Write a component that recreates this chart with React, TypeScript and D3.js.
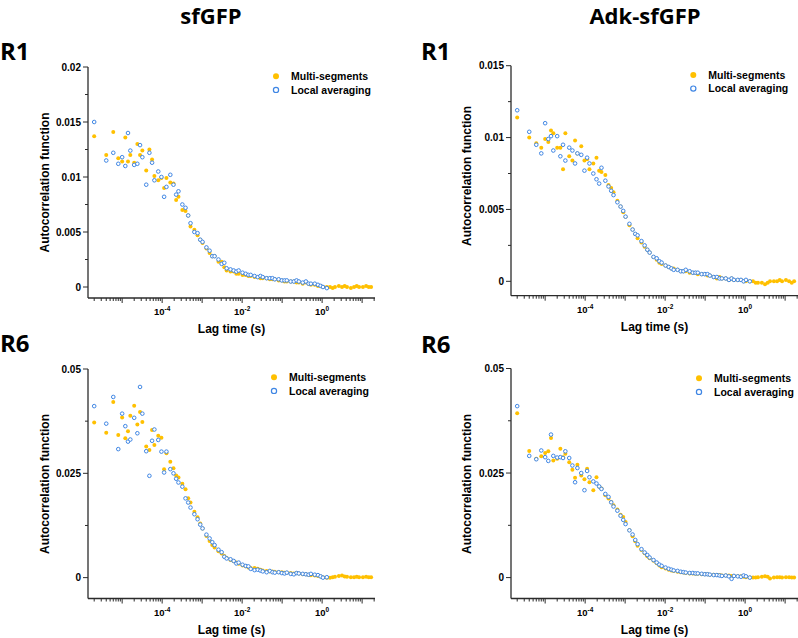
import React, { useRef, useEffect } from 'react';
import * as d3 from 'd3';

// lag times (s), shared by every curve
const LAG = [
  2e-6, 4e-6, 6e-6, 8e-6, 1e-5, 1.2e-5, 1.4e-5, 1.6e-5,
  2e-5, 2.4e-5, 2.8e-5, 3.2e-5, 4e-5, 4.8e-5, 5.6e-5, 6.4e-5,
  8e-5, 9.6e-5, 1.12e-4, 1.28e-4, 1.6e-4, 1.92e-4, 2.24e-4, 2.56e-4,
  3.2e-4, 3.84e-4, 4.48e-4, 5.12e-4, 6.4e-4, 7.68e-4, 8.96e-4, 1.024e-3,
  1.28e-3, 1.536e-3, 1.792e-3, 2.048e-3, 2.56e-3, 3.072e-3, 3.584e-3, 4.096e-3,
  5.12e-3, 6.144e-3, 7.168e-3, 8.192e-3, 1.024e-2, 1.229e-2, 1.434e-2, 1.638e-2,
  2.048e-2, 2.458e-2, 2.867e-2, 3.277e-2, 4.096e-2, 4.915e-2, 5.734e-2, 6.554e-2,
  8.192e-2, 9.83e-2, 0.1147, 0.1311, 0.1638, 0.1966, 0.2294, 0.2621,
  0.3277, 0.3932, 0.4588, 0.5243, 0.6554, 0.7864, 0.9175, 1.049,
  1.311, 1.573, 1.835, 2.097, 2.621, 3.146, 3.67, 4.194,
  5.243, 6.291, 7.34, 8.389, 10.49, 12.58, 14.68, 16.78
];

// sfGFP, R1
const SF_R1_MULTI = [
  .0137, .0120, .0141, .0117, .0114, .0136, .0114, .0120, .0113, .0130, .0120, .0124, .0106, .0125, .0116, .0101, .0097, .0099, .0090, .0099,
  .0095, .0094, .0079, .0082, .0070, .0069, .0065, .0055, .0052, .0047, .0043, .0040, .0035, .0031, .0028, .0028, .0023, .0023, .0018, .0015, .0014, .0014, .0012, .0012,
  .0011, .0011, .0010, .0010, .0009, .0009, .0008, .0008, .0008, .0007, .0007, .0007, .0006, .0006, .0005, .0005, .0005, .0005, .0004, .0004, .0003, .0004, .0003, .0002, .0002, .0001, .0001, .0000, .0000,
  .0000, -.0001, .0000, .0001, .0000, .0001, .0000, -.0001, .0000, .0001, .0000, .0000, .0001, .0000, .0000
];
const SF_R1_LOCAL = [
  .0150, .0115, .0122, .0112, .0118, .0110, .0140, .0124, .0111, .0112, .0129, .0118, .0093, .0122, .0113, .0097, .0105, .0100, .0082, .0091,
  .0102, .0093, .0084, .0087, .0075, .0072, .0065, .0058, .0050, .0049, .0043, .0041, .0036, .0033, .0028, .0028, .0025, .0021, .0022, .0017, .0016, .0015, .0014, .0015,
  .0013, .0012, .0011, .0011, .0010, .0009, .0010, .0009, .0008, .0008, .0008, .0007, .0007, .0006, .0006, .0006, .0005, .0005, .0006, .0005, .0004, .0005, .0003, .0003, .0003, .0002, .0001, .0000, -.0001
];

// Adk-sfGFP, R1
const ADK_R1_MULTI = [
  .0114, .0100, .0096, .0093, .0099, .0097, .0105, .0103, .0093, .0093, .0078, .0103, .0087, .0084, .0098, .0089, .0094, .0084, .0085, .0078,
  .0082, .0086, .0077, .0076, .0074, .0067, .0065, .0062, .0056, .0052, .0048, .0045, .0039, .0036, .0033, .0030, .0027, .0024, .0022, .0020, .0017, .0015, .0013, .0012,
  .0011, .0010, .0009, .0009, .0008, .0007, .0007, .0007, .0006, .0006, .0006, .0005, .0005, .0005, .0004, .0004, .0003, .0002, .0003, .0002, .0002, .0001, .0002, .0001, .0001, .0001, .0000, .0000, .0000,
  .0000, -.0001, -.0001, -.0001, -.0002, -.0001, .0000, .0000, .0000, .0001, .0000, .0001, .0000, -.0001, .0000
];
const ADK_R1_LOCAL = [
  .0119, .0104, .0095, .0089, .0110, .0099, .0101, .0091, .0101, .0087, .0095, .0084, .0093, .0091, .0082, .0089, .0088, .0077, .0086, .0082,
  .0075, .0071, .0068, .0079, .0070, .0066, .0063, .0060, .0055, .0052, .0049, .0045, .0040, .0036, .0033, .0032, .0028, .0025, .0022, .0020, .0017, .0016, .0014, .0013,
  .0011, .0010, .0009, .0008, .0008, .0007, .0007, .0008, .0007, .0006, .0006, .0006, .0005, .0005, .0005, .0004, .0003, .0003, .0002, .0002, .0002, .0001, .0002, .0001, .0001, .0001, .0000, .0001, .0000
];

// sfGFP, R6
const SF_R6_MULTI = [
  .0372, .0347, .0421, .0342, .0384, .0334, .0351, .0388, .0412, .0367, .0397, .0373, .0314, .0306, .0354, .0318, .0340, .0335, .0260, .0298,
  .0278, .0262, .0245, .0240, .0225, .0212, .0190, .0180, .0158, .0145, .0130, .0118, .0100, .0088, .0078, .0072, .0063, .0058, .0052, .0047, .0042, .0039, .0036, .0033,
  .0029, .0027, .0024, .0023, .0023, .0021, .0019, .0017, .0016, .0015, .0015, .0014, .0013, .0013, .0012, .0012, .0011, .0010, .0011, .0010, .0008, .0008, .0007, .0006, .0005, .0004, .0003, .0001, .0000,
  .0000, .0001, .0002, .0004, .0005, .0003, .0002, .0001, .0001, .0002, .0001, .0001, .0002, .0001, .0001
];
const SF_R6_LOCAL = [
  .0411, .0369, .0433, .0308, .0393, .0363, .0326, .0331, .0383, .0346, .0457, .0393, .0303, .0244, .0328, .0355, .0330, .0302, .0252, .0302,
  .0260, .0250, .0237, .0228, .0218, .0190, .0180, .0168, .0152, .0140, .0127, .0118, .0103, .0094, .0085, .0078, .0067, .0061, .0050, .0046, .0044, .0040, .0034, .0036,
  .0031, .0028, .0027, .0021, .0018, .0019, .0017, .0015, .0013, .0016, .0013, .0012, .0013, .0011, .0010, .0012, .0009, .0008, .0011, .0010, .0009, .0008, .0007, .0009, .0007, .0006, .0003, .0000, .0001
];

// Adk-sfGFP, R6
const ADK_R6_MULTI = [
  .0393, .0303, .0284, .0290, .0298, .0302, .0334, .0280, .0284, .0308, .0288, .0296, .0276, .0258, .0239, .0270, .0244, .0235, .0260, .0228,
  .0209, .0240, .0217, .0213, .0197, .0189, .0181, .0173, .0163, .0150, .0145, .0133, .0113, .0099, .0087, .0076, .0066, .0058, .0051, .0046, .0040, .0034, .0029, .0025,
  .0022, .0019, .0017, .0016, .0014, .0013, .0012, .0011, .0010, .0010, .0009, .0009, .0008, .0008, .0008, .0007, .0007, .0006, .0006, .0005, .0005, .0005, .0004, .0004, .0003, .0003, .0002, .0001, .0000,
  .0000, .0000, .0001, .0002, .0003, .0002, -.0002, .0000, .0001, .0001, .0000, .0001, .0001, .0000, .0000
];
const ADK_R6_LOCAL = [
  .0410, .0291, .0283, .0304, .0288, .0279, .0342, .0291, .0287, .0288, .0286, .0302, .0286, .0268, .0228, .0262, .0250, .0209, .0255, .0240,
  .0230, .0225, .0218, .0212, .0200, .0193, .0180, .0170, .0160, .0148, .0138, .0128, .0113, .0103, .0090, .0080, .0068, .0060, .0054, .0048, .0042, .0036, .0031, .0028,
  .0024, .0021, .0019, .0017, .0016, .0014, .0013, .0012, .0011, .0011, .0010, .0010, .0009, .0008, .0008, .0007, .0006, .0006, .0005, .0004, .0005, .0003, -.0003, .0004, .0003, .0002, .0005, .0003, .0000
];

const COLUMN_TITLES = ['sfGFP', 'Adk-sfGFP'];
const SERIES_NAMES = ['Multi-segments', 'Local averaging'];
const X_LABEL_POWERS = [1e-4, 1e-2, 1];

const YELLOW = '#FFC000';
const BLUE = '#3F86E4';
const AXIS = '#2b2b2b';
const LABEL_FONT = '"Liberation Sans", Arial, sans-serif';
const TITLE_FONT = '"Open Sans", "Liberation Sans", sans-serif';

const X_DOMAIN = [1.4e-6, 21];
const PLOT_W = 287;

const PANELS = [
  { region: 'R1', multi: SF_R1_MULTI, local: SF_R1_LOCAL, left: 88, top: 67, bottom: 298,
    yDomain: [-0.001, 0.02], yTicks: [0, 0.005, 0.01, 0.015, 0.02],
    regionX: 0, regionY: 60, labelX: 49, labelY: 182.5, legendX: 276, legendY: 76.3 },
  { region: 'R1', multi: ADK_R1_MULTI, local: ADK_R1_LOCAL, left: 511, top: 65.7, bottom: 295.7,
    yDomain: [-0.001, 0.015], yTicks: [0, 0.005, 0.01, 0.015],
    regionX: 421, regionY: 60, labelX: 471, labelY: 176, legendX: 693.3, legendY: 75 },
  { region: 'R6', multi: SF_R6_MULTI, local: SF_R6_LOCAL, left: 88, top: 369, bottom: 598.5,
    yDomain: [-0.005, 0.05], yTicks: [0, 0.025, 0.05],
    regionX: 0, regionY: 352, labelX: 49, labelY: 484, legendX: 274, legendY: 377.3 },
  { region: 'R6', multi: ADK_R6_MULTI, local: ADK_R6_LOCAL, left: 511, top: 368.5, bottom: 598.5,
    yDomain: [-0.005, 0.05], yTicks: [0, 0.025, 0.05],
    regionX: 421, regionY: 353, labelX: 471, labelY: 484, legendX: 699, legendY: 378.3 }
];

function drawPanel(svg, p) {
  const x = d3.scaleLog().domain(X_DOMAIN).range([p.left, p.left + PLOT_W]);
  const y = d3.scaleLinear().domain(p.yDomain).range([p.bottom, p.top]);
  const g = svg.append('g');

  // axis lines
  g.append('line')
    .attr('x1', p.left).attr('x2', p.left + PLOT_W)
    .attr('y1', p.bottom).attr('y2', p.bottom)
    .attr('stroke', AXIS).attr('stroke-width', 1.3);
  g.append('line')
    .attr('x1', p.left).attr('x2', p.left)
    .attr('y1', p.top).attr('y2', p.bottom)
    .attr('stroke', AXIS).attr('stroke-width', 1.3);

  // x ticks, one per 1..9 x 10^k
  x.ticks().forEach(t => {
    const e = Math.log10(t);
    const major = Math.abs(e - Math.round(e)) < 1e-6;
    g.append('line')
      .attr('x1', x(t)).attr('x2', x(t))
      .attr('y1', p.bottom).attr('y2', p.bottom + (major ? 5 : 3))
      .attr('stroke', AXIS).attr('stroke-width', 1);
  });

  X_LABEL_POWERS.forEach(t => {
    const txt = g.append('text')
      .attr('x', x(t)).attr('y', p.bottom + 17)
      .attr('text-anchor', 'middle')
      .attr('font-family', LABEL_FONT).attr('font-weight', 700);
    txt.append('tspan').attr('font-size', 9.5).text('10');
    txt.append('tspan').attr('font-size', 6.5).attr('dy', -4)
      .text(String(Math.round(Math.log10(t))));
  });

  // y ticks
  const minor = p.yTicks.slice(1).map((v, i) => (v + p.yTicks[i]) / 2);
  minor.forEach(v => {
    g.append('line')
      .attr('x1', p.left - 3).attr('x2', p.left)
      .attr('y1', y(v)).attr('y2', y(v))
      .attr('stroke', AXIS).attr('stroke-width', 1);
  });
  p.yTicks.forEach(v => {
    g.append('line')
      .attr('x1', p.left - 5).attr('x2', p.left)
      .attr('y1', y(v)).attr('y2', y(v))
      .attr('stroke', AXIS).attr('stroke-width', 1);
    g.append('text')
      .attr('x', p.left - 7).attr('y', y(v) + 3.5)
      .attr('text-anchor', 'end')
      .attr('font-family', LABEL_FONT).attr('font-weight', 700).attr('font-size', 10)
      .text(String(v));
  });

  // axis titles
  g.append('text')
    .attr('transform', `translate(${p.labelX},${p.labelY}) rotate(-90)`)
    .attr('text-anchor', 'middle')
    .attr('font-family', LABEL_FONT).attr('font-weight', 700).attr('font-size', 12)
    .text('Autocorrelation function');
  g.append('text')
    .attr('x', p.left + PLOT_W / 2).attr('y', p.bottom + 35)
    .attr('text-anchor', 'middle')
    .attr('font-family', LABEL_FONT).attr('font-weight', 700).attr('font-size', 12)
    .text('Lag time (s)');

  // region label
  g.append('text')
    .attr('x', p.regionX).attr('y', p.regionY)
    .attr('font-family', TITLE_FONT).attr('font-weight', 700).attr('font-size', 24)
    .text(p.region);

  // data
  g.selectAll('.multi')
    .data(p.multi)
    .enter()
    .append('circle')
    .attr('class', 'multi')
    .attr('cx', (d, i) => x(LAG[i]))
    .attr('cy', d => y(d))
    .attr('r', 2)
    .attr('fill', YELLOW);

  g.selectAll('.local')
    .data(p.local)
    .enter()
    .append('circle')
    .attr('class', 'local')
    .attr('cx', (d, i) => x(LAG[i]))
    .attr('cy', d => y(d))
    .attr('r', 1.8)
    .attr('fill', '#fff')
    .attr('stroke', BLUE)
    .attr('stroke-width', 1);

  // legend
  SERIES_NAMES.forEach((name, i) => {
    const cy = p.legendY + i * 13.6;
    g.append('circle')
      .attr('cx', p.legendX).attr('cy', cy)
      .attr('r', i === 0 ? 3 : 2.6)
      .attr('fill', i === 0 ? YELLOW : '#fff')
      .attr('stroke', i === 0 ? 'none' : BLUE)
      .attr('stroke-width', 1.2);
    g.append('text')
      .attr('x', p.legendX + 15).attr('y', cy + 3.8)
      .attr('font-family', LABEL_FONT).attr('font-weight', 700).attr('font-size', 10.5)
      .text(name);
  });
}

function App() {
  const svgRef = useRef(null);

  useEffect(() => {
    const svg = d3.select(svgRef.current);
    svg.selectAll('*').remove();

    svg.append('rect').attr('width', 798).attr('height', 638).attr('fill', '#fff');

    COLUMN_TITLES.forEach((t, i) => {
      svg.append('text')
        .attr('x', i === 0 ? 211 : 645).attr('y', 24)
        .attr('text-anchor', 'middle')
        .attr('font-family', TITLE_FONT).attr('font-weight', 700).attr('font-size', 22)
        .text(t);
    });

    PANELS.forEach(p => drawPanel(svg, p));
  }, []);

  return (
    <svg
      ref={svgRef}
      width={798}
      height={638}
      style={{ position: 'absolute', left: 0, top: 0 }}
    ></svg>
  );
}

export default App;
